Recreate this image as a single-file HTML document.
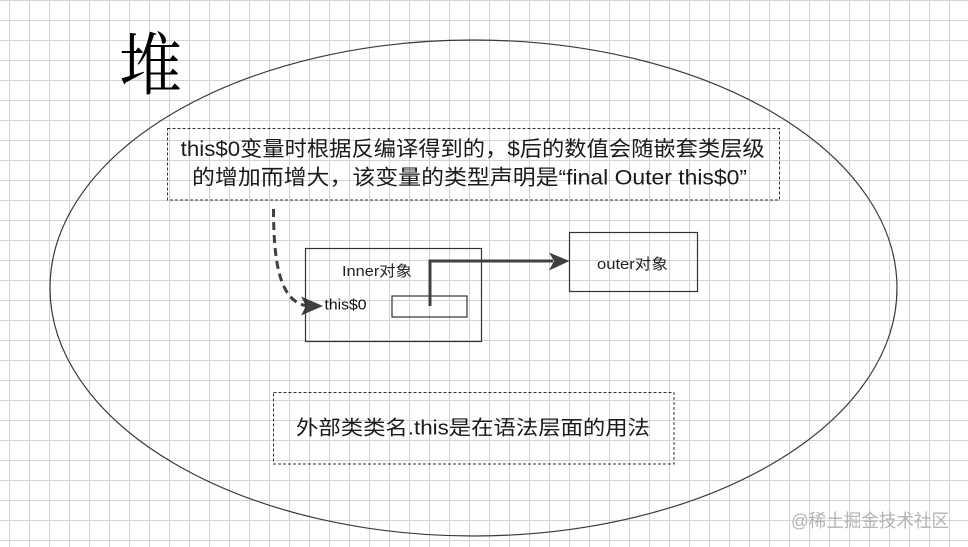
<!DOCTYPE html>
<html>
<head>
<meta charset="utf-8">
<style>
html,body{margin:0;padding:0;background:#fff;}
svg{display:block;}
</style>
</head>
<body>
<svg width="968" height="547" viewBox="0 0 968 547" xmlns="http://www.w3.org/2000/svg">
  <defs>
    <pattern id="grid" patternUnits="userSpaceOnUse" x="0" y="0" width="20" height="20">
      <line x1="9.5" y1="0" x2="9.5" y2="20" stroke="#d3d3d3" stroke-width="1"/>
      <line x1="0" y1="0.5" x2="20" y2="0.5" stroke="#d3d3d3" stroke-width="1"/>
    </pattern>
  </defs>
  <rect x="0" y="0" width="968" height="547" fill="#fff"/>
  <rect x="0" y="0" width="968" height="547" fill="url(#grid)"/>

  <!-- 堆 -->
  <text x="119" y="89" font-family="'Noto Serif CJK SC', 'Liberation Serif', serif" font-size="68" fill="#000" textLength="63" lengthAdjust="spacingAndGlyphs">堆</text>

  <!-- big ellipse -->
  <ellipse cx="473.5" cy="288" rx="423.5" ry="248" fill="none" stroke="#3a3a3a" stroke-width="1.2"/>

  <!-- top dashed note box -->
  <rect x="167.5" y="128.5" width="612" height="71.5" fill="none" stroke="#333" stroke-width="1" stroke-dasharray="3,2"/>
  <text x="180.7" y="156" font-family="'Liberation Sans', 'Noto Sans CJK SC', sans-serif" font-size="21" fill="#1a1a1a" textLength="584" lengthAdjust="spacingAndGlyphs">this$0变量时根据反编译得到的，$后的数值会随嵌套类层级</text>
  <text x="192" y="184.5" font-family="'Liberation Sans', 'Noto Sans CJK SC', sans-serif" font-size="21" fill="#1a1a1a" textLength="555" lengthAdjust="spacingAndGlyphs">的增加而增大，该变量的类型声明是“final Outer this$0”</text>

  <!-- dashed curved arrow -->
  <path d="M273.5 209 C 273.5 270, 282 300, 305 305.5" fill="none" stroke="#404040" stroke-width="3" stroke-dasharray="8,5"/>
  <polygon points="323,306 301,296.5 306,306 301,315.5" fill="#404040"/>

  <!-- Inner object box -->
  <rect x="305.5" y="248.5" width="176" height="93" fill="none" stroke="#333" stroke-width="1.2"/>
  <text x="342" y="276" font-family="'Liberation Sans', 'Noto Sans CJK SC', sans-serif" font-size="15" fill="#222" textLength="70" lengthAdjust="spacingAndGlyphs">Inner对象</text>
  <text x="324.5" y="309.5" font-family="'Liberation Sans', 'Noto Sans CJK SC', sans-serif" font-size="15" fill="#111" textLength="42" lengthAdjust="spacingAndGlyphs">this$0</text>
  <rect x="392" y="296" width="75" height="21" fill="none" stroke="#333" stroke-width="1.2"/>

  <!-- thick connector -->
  <path d="M430 306 V261 H553" fill="none" stroke="#404040" stroke-width="3"/>
  <polygon points="569.5,261 549,252.5 554,261 549,270.5" fill="#404040"/>

  <!-- outer object box -->
  <rect x="569.5" y="232.5" width="128" height="59" fill="none" stroke="#333" stroke-width="1.2"/>
  <text x="597" y="269" font-family="'Liberation Sans', 'Noto Sans CJK SC', sans-serif" font-size="15" fill="#222" textLength="71" lengthAdjust="spacingAndGlyphs">outer对象</text>

  <!-- bottom dashed box -->
  <rect x="273.5" y="392.5" width="400.5" height="71.5" fill="none" stroke="#333" stroke-width="1" stroke-dasharray="3,2"/>
  <text x="296" y="434.5" font-family="'Liberation Sans', 'Noto Sans CJK SC', sans-serif" font-size="20" fill="#1a1a1a" textLength="354" lengthAdjust="spacingAndGlyphs">外部类类名.this是在语法层面的用法</text>

  <!-- watermark -->
  <text x="791" y="527" font-family="'Liberation Sans', 'Noto Sans CJK SC', sans-serif" font-size="18" fill="#b4b4b4" textLength="158" lengthAdjust="spacingAndGlyphs">@稀土掘金技术社区</text>
</svg>
</body>
</html>
